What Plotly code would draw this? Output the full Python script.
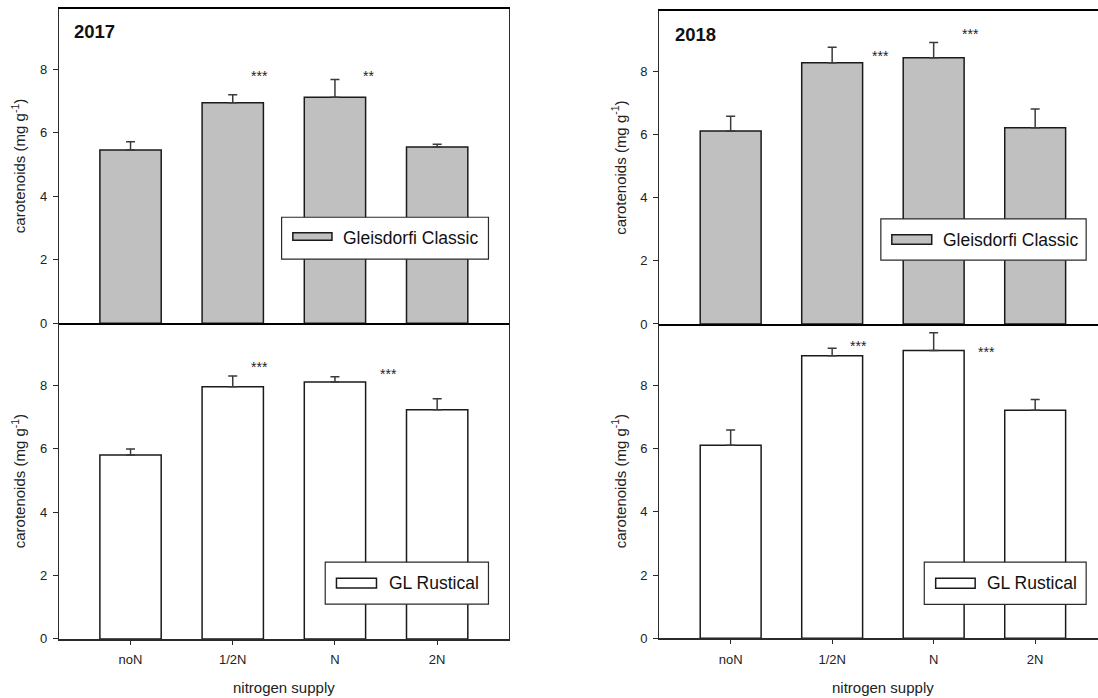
import plotly.graph_objects as go

# ---------------- data ----------------
categories = ["noN", "1/2N", "N", "2N"]

classic_2017 = [5.45, 6.94, 7.11, 5.55]
classic_2017_err = [0.26, 0.25, 0.56, 0.08]
rustical_2017 = [5.80, 7.95, 8.10, 7.22]
rustical_2017_err = [0.19, 0.34, 0.16, 0.35]

classic_2018 = [6.11, 8.27, 8.43, 6.21]
classic_2018_err = [0.47, 0.49, 0.48, 0.60]
rustical_2018 = [6.11, 8.94, 9.11, 7.22]
rustical_2018_err = [0.48, 0.24, 0.56, 0.34]

# significance marks: x position (category index), y value, text
sig_classic_2017_x = [1.26, 2.33]
sig_classic_2017_y = [7.89, 7.89]
sig_classic_2017_t = ["***", "**"]
sig_rustical_2017_x = [1.26, 2.52]
sig_rustical_2017_y = [8.66, 8.45]
sig_rustical_2017_t = ["***", "***"]
sig_classic_2018_x = [1.48, 2.36]
sig_classic_2018_y = [8.59, 9.27]
sig_classic_2018_t = ["***", "***"]
sig_rustical_2018_x = [1.26, 2.52]
sig_rustical_2018_y = [9.34, 9.15]
sig_rustical_2018_t = ["***", "***"]

years = ["2017", "2018"]
cultivars = ["Gleisdorfi Classic", "GL Rustical"]
y_title = "carotenoids (mg g<sup>-1</sup>)"
x_title = "nitrogen supply"

# ---------------- geometry (figure pixels) ----------------
W, H = 1098, 698
KY = 706 / 698  # vertical correction factor


def fx(p):
    return p / W


def fy(p):
    return 1 - p * KY / H


xl = [fx(59), fx(508.7)]
xr = [fx(659.3), 1.0]
yl_top = [fy(323.3), fy(8.7)]
yl_bot = [fy(639), fy(323.3)]
yr_top = [fy(324), fy(11.3)]
yr_bot = [fy(638.3), fy(324)]
rng_l = [-0.7, 3.7]
rng_r = [-0.703, 3.619]

# ---------------- style ----------------
FONT = "Liberation Sans, Arial, Helvetica, sans-serif"
GREY = "#c0c0c0"
EDGE = "#1a1a1a"
AX = "#2a2a2a"

panels = [
    ("x", "y", classic_2017, classic_2017_err, GREY,
     sig_classic_2017_x, sig_classic_2017_y, sig_classic_2017_t),
    ("x2", "y2", rustical_2017, rustical_2017_err, "white",
     sig_rustical_2017_x, sig_rustical_2017_y, sig_rustical_2017_t),
    ("x3", "y3", classic_2018, classic_2018_err, GREY,
     sig_classic_2018_x, sig_classic_2018_y, sig_classic_2018_t),
    ("x4", "y4", rustical_2018, rustical_2018_err, "white",
     sig_rustical_2018_x, sig_rustical_2018_y, sig_rustical_2018_t),
]

fig = go.Figure()
annotations = []
shapes = []

for xa, ya, vals, errs, fill, sx, sy, st in panels:
    fig.add_trace(go.Bar(
        x=categories, y=vals, width=0.6,
        marker=dict(color=fill, line=dict(color=EDGE, width=1.5)),
        error_y=dict(type="data", array=errs, arrayminus=[0] * len(errs),
                     symmetric=False, color="#3a3a3a", thickness=1.5, width=4.5),
        xaxis=xa, yaxis=ya, showlegend=False, hoverinfo="x+y",
    ))
    for x, y, t in zip(sx, sy, st):
        annotations.append(dict(x=x, y=y, xref=xa, yref=ya, text=t,
                                showarrow=False, yshift=-3,
                                font=dict(size=14, color="#222", family=FONT)))

# legend boxes (domain coordinates of each panel)
legend_specs = [
    ("x", "y", (0.495, 0.955, 0.204, 0.337), (0.520, 0.607, 0.264, 0.288), 0.626, 0.272, cultivars[0], GREY),
    ("x2", "y2", (0.592, 0.955, 0.110, 0.243), (0.617, 0.706, 0.161, 0.192), 0.729, 0.176, cultivars[1], "white"),
    ("x3", "y3", (0.505, 0.973, 0.204, 0.336), (0.530, 0.621, 0.255, 0.285), 0.641, 0.270, cultivars[0], GREY),
    ("x4", "y4", (0.604, 0.973, 0.108, 0.242), (0.630, 0.720, 0.159, 0.191), 0.742, 0.175, cultivars[1], "white"),
]
for xa, ya, box, patch, tx, ty, label, fill in legend_specs:
    shapes.append(dict(type="rect", xref=xa + " domain", yref=ya + " domain",
                       x0=box[0], x1=box[1], y0=box[2], y1=box[3],
                       fillcolor="white", line=dict(color=AX, width=1.2), layer="above"))
    shapes.append(dict(type="rect", xref=xa + " domain", yref=ya + " domain",
                       x0=patch[0], x1=patch[1], y0=patch[2], y1=patch[3],
                       fillcolor=fill, line=dict(color=EDGE, width=1.5), layer="above"))
    annotations.append(dict(x=tx, y=ty, xref=xa + " domain", yref=ya + " domain",
                            text=label, showarrow=False, xanchor="left", yanchor="middle",
                            font=dict(size=17.5, color="#111", family=FONT)))

# year labels
annotations.append(dict(x=0.028, y=0.929, xref="x domain", yref="y domain", text="<b>" + years[0] + "</b>",
                        showarrow=False, xanchor="left", yanchor="middle",
                        font=dict(size=18.5, color="#111", family=FONT)))
annotations.append(dict(x=0.0305, y=0.927, xref="x3 domain", yref="y3 domain",
                        text="<b>" + years[1] + "</b>",
                        showarrow=False, xanchor="left", yanchor="middle",
                        font=dict(size=18.5, color="#111", family=FONT)))

# x-axis titles
for xa in ["x2", "x4"]:
    annotations.append(dict(x=1.5, y=fy(688), xref=xa, yref="paper", text=x_title,
                            showarrow=False, xanchor="center", yanchor="middle",
                            font=dict(size=15, color="#222", family=FONT)))

tickfont = dict(size=13, color="#222", family=FONT)
titlefont = dict(size=15, color="#222", family=FONT)


def xaxis(domain, rng, anchor, top):
    d = dict(domain=domain, range=rng, type="category", anchor=anchor,
             showline=True, linecolor="black" if top else AX,
             linewidth=2 if top else 1.5, showgrid=False, zeroline=False,
             categoryorder="array", categoryarray=categories, tickfont=tickfont)
    if top:
        d.update(mirror=True, ticks="", showticklabels=False)
    else:
        d.update(mirror=False, ticks="outside", ticklen=4, tickcolor=AX, tickwidth=1.2,
                 ticklabelstandoff=4)
    return d


def yaxis(domain, rng, anchor, mirror):
    return dict(domain=domain, range=rng, anchor=anchor, showline=True, linecolor=AX,
                linewidth=1.3, mirror=mirror, ticks="outside", ticklen=5, tickcolor=AX,
                tickwidth=1.2, dtick=2, tick0=0, showgrid=False, zeroline=False,
                ticklabelstandoff=3,
                tickfont=tickfont, title=dict(text=y_title, font=titlefont, standoff=10))


fig.update_layout(
    width=W, height=H,
    margin=dict(l=0, r=0, t=0, b=0),
    paper_bgcolor="white", plot_bgcolor="white",
    font=dict(family=FONT, color="#222"),
    barmode="overlay",
    xaxis=xaxis(xl, rng_l, "y", True),
    yaxis=yaxis(yl_top, [0, 9.9], "x", True),
    xaxis2=xaxis(xl, rng_l, "y2", False),
    yaxis2=yaxis(yl_bot, [0, 9.95], "x2", True),
    xaxis3=xaxis(xr, rng_r, "y3", True),
    yaxis3=yaxis(yr_top, [0, 9.9], "x3", False),
    xaxis4=xaxis(xr, rng_r, "y4", False),
    yaxis4=yaxis(yr_bot, [0, 9.95], "x4", False),
    annotations=annotations,
    shapes=shapes,
)

# remove the default page margin so the 1098x698 figure fills the window exactly
fig.write_html("out.html", config={"displayModeBar": False},
               post_script="document.body.style.margin='0';document.body.style.overflow='hidden';")
